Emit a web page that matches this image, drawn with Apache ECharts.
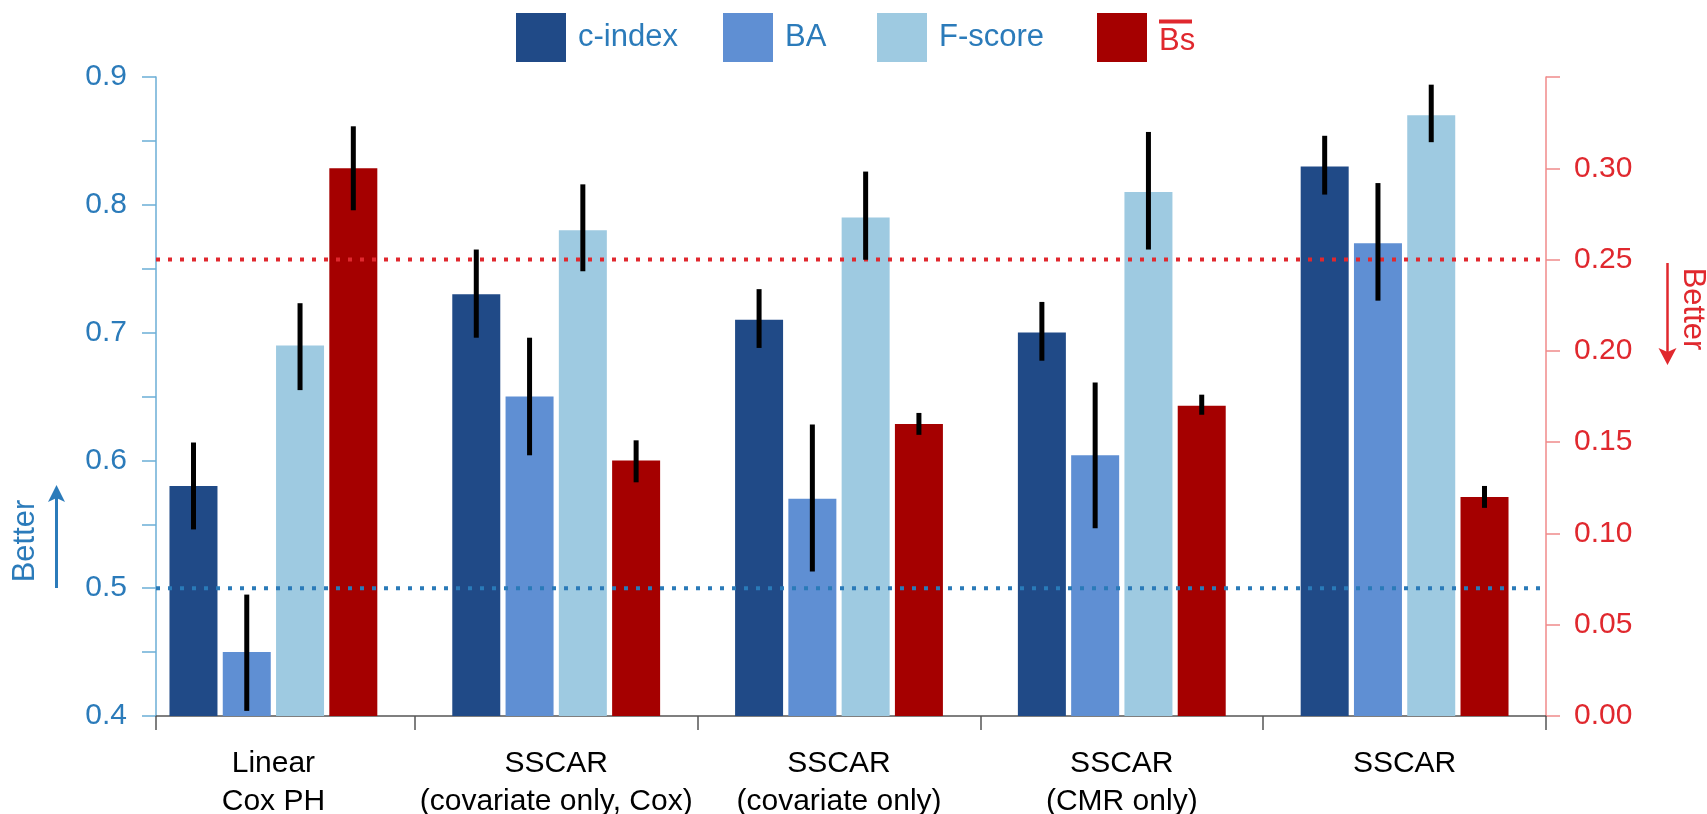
<!DOCTYPE html>
<html>
<head>
<meta charset="utf-8">
<script src="https://cdn.jsdelivr.net/npm/echarts@6/dist/echarts.min.js"></script>
<style>
  html, body { margin: 0; padding: 0; background: #fff; }
  #main { width: 1707px; height: 814px; }
</style>
</head>
<body>
<div id="main"></div>
<script>
const categories = ['Linear\nCox PH', 'SSCAR\n(covariate only, Cox)', 'SSCAR\n(covariate only)', 'SSCAR\n(CMR only)', 'SSCAR'];
const metricNames = ['c-index', 'BA', 'F-score', 'Bs'];

const cIndex   = [0.58, 0.73, 0.71, 0.70, 0.83];
const cIndexLo = [0.546, 0.696, 0.688, 0.678, 0.808];
const cIndexHi = [0.614, 0.765, 0.734, 0.724, 0.854];

const ba   = [0.45, 0.65, 0.57, 0.604, 0.77];
const baLo = [0.404, 0.604, 0.513, 0.547, 0.725];
const baHi = [0.495, 0.696, 0.628, 0.661, 0.817];

const fScore   = [0.69, 0.78, 0.79, 0.81, 0.87];
const fScoreLo = [0.655, 0.748, 0.757, 0.765, 0.849];
const fScoreHi = [0.723, 0.816, 0.826, 0.857, 0.894];

const bs   = [0.30, 0.14, 0.16, 0.17, 0.12];
const bsLo = [0.277, 0.128, 0.154, 0.165, 0.114];
const bsHi = [0.323, 0.151, 0.166, 0.176, 0.126];

// reference levels
const leftRef = 0.5;
const rightRef = 0.25;

const FONT = '"Liberation Sans", Arial, sans-serif';
const BLUE_TXT = '#2b7bba';
const RED_TXT = '#e0282e';
const colors = ['#204a87', '#5f8fd3', '#9ecae1', '#a50000'];

const barWidth = 48;
const barGapPct = 0.11;
const barPitch = barWidth * (1 + barGapPct);

const chart = echarts.init(document.getElementById('main'), null, { renderer: 'canvas' });

function errorBars(name, lo, hi, k, yIdx) {
  return {
    name: name + ' err',
    type: 'custom',
    xAxisIndex: 0,
    yAxisIndex: yIdx,
    z: 5,
    silent: true,
    data: lo.map(function (v, i) { return [i, v, hi[i]]; }),
    renderItem: function (params, api) {
      const a = api.coord([api.value(0), api.value(1)]);
      const b = api.coord([api.value(0), api.value(2)]);
      const x = a[0] + (k - 1.5) * barPitch;
      return {
        type: 'rect',
        shape: { x: x - 2.5, y: b[1], width: 5, height: a[1] - b[1] },
        style: { fill: '#000' }
      };
    }
  };
}

function barSeries(name, data, k, yIdx) {
  return {
    name: name,
    type: 'bar',
    xAxisIndex: 0,
    yAxisIndex: yIdx,
    data: data,
    barWidth: barWidth,
    barGap: (barGapPct * 100) + '%',
    itemStyle: { color: colors[k] }
  };
}

function refLine(val, yIdx, color) {
  return {
    type: 'line',
    xAxisIndex: 1,
    yAxisIndex: yIdx,
    data: [[0, val], [1, val]],
    symbol: 'none',
    silent: true,
    z: 4,
    lineStyle: { color: color, width: 4, type: [4, 8], cap: 'butt' }
  };
}

const legendLefts = [516, 723, 877, 1097];
const legends = metricNames.map(function (name, i) {
  const isBs = name === 'Bs';
  return {
    left: legendLefts[i],
    top: isBs ? 6 : 13,
    padding: 0,
    itemWidth: 50,
    itemHeight: 49,
    icon: 'rect',
    selectedMode: false,
    textStyle: {
      fontSize: 31,
      fontFamily: FONT,
      color: isBs ? RED_TXT : BLUE_TXT,
      padding: [0, 0, 0, 7],
      rich: {
        ol: { width: 33, height: 4, backgroundColor: RED_TXT, lineHeight: 8 },
        t: { fontSize: 31, color: RED_TXT, fontFamily: FONT, lineHeight: 32 }
      }
    },
    formatter: function (n) {
      return n === 'Bs' ? '{ol|}\n{t|Bs}' : n;
    },
    data: [name]
  };
});

const option = {
  animation: false,
  textStyle: { fontFamily: FONT },
  grid: [
    { left: 132, right: 161, top: 77, bottom: 98, outerBoundsMode: 'none', containLabel: false },
    { left: 156, right: 161, top: 77, bottom: 98, outerBoundsMode: 'none', containLabel: false }
  ],
  legend: legends,
  xAxis: [
    {
      type: 'category',
      gridIndex: 0,
      data: categories,
      axisLine: { show: false },
      axisTick: {
        show: true,
        length: 14,
        interval: function (i) { return i > 0; },
        lineStyle: { color: '#555', width: 1.5 }
      },
      axisLabel: {
        color: '#000',
        fontSize: 30,
        fontFamily: FONT,
        lineHeight: 38,
        margin: 29,
        interval: 0
      }
    },
    {
      type: 'value',
      gridIndex: 1,
      min: 0,
      max: 1,
      interval: 1,
      axisLine: { show: true, lineStyle: { color: '#555', width: 1.5 } },
      axisTick: { show: true, length: 14, lineStyle: { color: '#555', width: 1.5 } },
      axisLabel: { show: false },
      splitLine: { show: false }
    }
  ],
  yAxis: [
    {
      type: 'value',
      gridIndex: 1,
      position: 'left',
      min: 0.4,
      max: 0.9,
      interval: 0.05,
      axisLine: { show: true, lineStyle: { color: '#6baed6', width: 1.5 } },
      axisTick: { show: true, length: 14, lineStyle: { color: '#6baed6', width: 1.5 } },
      axisLabel: {
        color: BLUE_TXT,
        fontSize: 30,
        fontFamily: FONT,
        margin: 29,
        formatter: function (v) {
          return Math.round(v * 100) % 10 === 0 ? v.toFixed(1) : '';
        }
      },
      splitLine: { show: false }
    },
    {
      type: 'value',
      gridIndex: 1,
      position: 'right',
      min: 0,
      max: 0.35,
      interval: 0.05,
      axisLine: { show: true, lineStyle: { color: '#f08a8a', width: 1.5 } },
      axisTick: { show: true, length: 14, lineStyle: { color: '#f08a8a', width: 1.5 } },
      axisLabel: {
        color: RED_TXT,
        fontSize: 30,
        fontFamily: FONT,
        margin: 28,
        formatter: function (v) {
          return v > 0.34 ? '' : v.toFixed(2);
        }
      },
      splitLine: { show: false }
    },
    { type: 'value', gridIndex: 0, min: 0.4, max: 0.9, show: false, splitLine: { show: false } },
    { type: 'value', gridIndex: 0, min: 0, max: 0.35, show: false, splitLine: { show: false } }
  ],
  series: [
    barSeries(metricNames[0], cIndex, 0, 2),
    barSeries(metricNames[1], ba, 1, 2),
    barSeries(metricNames[2], fScore, 2, 2),
    barSeries(metricNames[3], bs, 3, 3),
    refLine(leftRef, 0, '#2a7ab8'),
    refLine(rightRef, 1, '#e0282e'),
    errorBars(metricNames[0], cIndexLo, cIndexHi, 0, 2),
    errorBars(metricNames[1], baLo, baHi, 1, 2),
    errorBars(metricNames[2], fScoreLo, fScoreHi, 2, 2),
    errorBars(metricNames[3], bsLo, bsHi, 3, 3)
  ],
  graphic: [
    {
      type: 'text', x: 25, y: 541, rotation: Math.PI / 2,
      style: { text: 'Better', fill: BLUE_TXT, font: '31px ' + FONT, align: 'center', verticalAlign: 'middle', textAlign: 'center', textVerticalAlign: 'middle' }
    },
    {
      type: 'line', shape: { x1: 56.5, y1: 588, x2: 56.5, y2: 497 },
      style: { stroke: BLUE_TXT, lineWidth: 3 }
    },
    {
      type: 'polygon', shape: { points: [[56.5, 485], [48, 502], [56.5, 498], [65, 502]] },
      style: { fill: BLUE_TXT }
    },
    {
      type: 'text', x: 1693, y: 309, rotation: -Math.PI / 2,
      style: { text: 'Better', fill: RED_TXT, font: '31px ' + FONT, align: 'center', verticalAlign: 'middle', textAlign: 'center', textVerticalAlign: 'middle' }
    },
    {
      type: 'line', shape: { x1: 1667.5, y1: 263, x2: 1667.5, y2: 353 },
      style: { stroke: RED_TXT, lineWidth: 2.5 }
    },
    {
      type: 'polygon', shape: { points: [[1667.5, 365], [1658.5, 348], [1667.5, 352], [1676.5, 348]] },
      style: { fill: RED_TXT }
    }
  ]
};

chart.setOption(option);
</script>
</body>
</html>
